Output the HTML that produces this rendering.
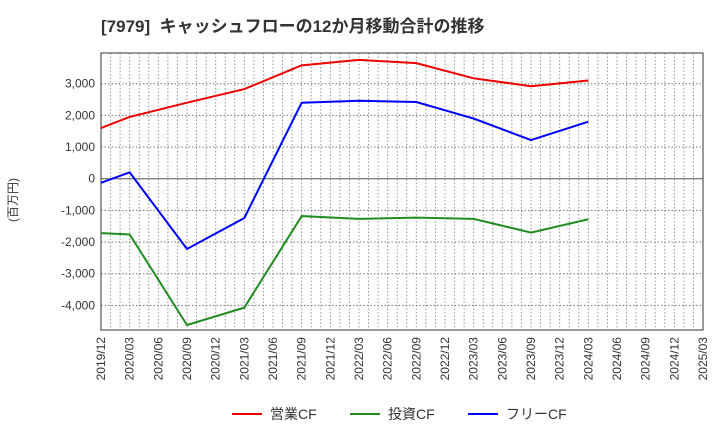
<!DOCTYPE html>
<html><head><meta charset="utf-8"><style>
body{margin:0;background:#fff;font-family:"Liberation Sans","Noto Sans CJK JP",sans-serif}
</style></head><body>
<svg id="c" width="720" height="440" xmlns="http://www.w3.org/2000/svg">
<text x="101" y="32" font-size="17" font-weight="bold" fill="#333" font-family="Liberation Sans,Noto Sans CJK JP,sans-serif">[7979]&#160;&#160;キャッシュフローの12か月移動合計の推移</text>
<text transform="translate(17,200) rotate(-90)" font-size="12" fill="#333" text-anchor="middle" font-family="Liberation Sans,Noto Sans CJK JP,sans-serif">(百万円)</text>
<g id="grid"></g><g id="axes"></g><g id="series"></g>
<g font-size="14" fill="#333" font-family="Liberation Sans,Noto Sans CJK JP,sans-serif">
<line x1="232" y1="414" x2="262" y2="414" stroke="#e00" stroke-width="2"/><text x="270" y="419">営業CF</text>
<line x1="350" y1="414" x2="380" y2="414" stroke="#228b22" stroke-width="2"/><text x="388" y="419">投資CF</text>
<line x1="468" y1="414" x2="498" y2="414" stroke="#00f" stroke-width="2"/><text x="506" y="419">フリーCF</text>
</g>
</svg>
<script>
const xLabels=["2019/12","2020/03","2020/06","2020/09","2020/12","2021/03","2021/06","2021/09","2021/12","2022/03","2022/06","2022/09","2022/12","2023/03","2023/06","2023/09","2023/12","2024/03","2024/06","2024/09","2024/12","2025/03"];
const yTicks=[-4000,-3000,-2000,-1000,0,1000,2000,3000];
const dataIdx=[0,1,3,5,7,9,11,13,15,17];
const operating=[1600,1950,2400,2830,3580,3750,3650,3170,2920,3100];
const investing=[-1720,-1760,-4620,-4070,-1180,-1270,-1230,-1270,-1700,-1280];
const free=[-130,200,-2220,-1240,2400,2460,2420,1900,1220,1800];
const L=101,R=703,T=53,B=330;
const x=q=>L+q*(R-L)/21;
const y=v=>178.7-v*31.67/1000;
const ns="http://www.w3.org/2000/svg";
function mk(t,a,p){const e=document.createElementNS(ns,t);for(const k in a)e.setAttribute(k,a[k]);p.appendChild(e);return e;}
const g=document.getElementById('grid'),ax=document.getElementById('axes'),s=document.getElementById('series');
for(let m=1;m<63;m++){const xx=L+m*(R-L)/63;const l=mk('line',{x1:xx,x2:xx,y1:T,y2:B,stroke:'#999','stroke-dasharray':'1.5,2','stroke-width':1},g);

}
yTicks.forEach(v=>{const l=mk('line',{x1:L,x2:R,y1:y(v),y2:y(v),stroke:v===0?'#555':'#777','stroke-dasharray':v===0?'':'1.5,2','stroke-width':1},g);


const t=mk('text',{x:L-6,y:y(v)+4,'text-anchor':'end','font-size':12,fill:'#333'},ax);t.textContent=v.toLocaleString('en-US');

});
const fr=mk('rect',{x:L,y:T,width:R-L,height:B-T,fill:'none',stroke:'#333'},ax);


xLabels.forEach((lb,i)=>{const t=mk('text',{transform:`translate(${x(i)+4},${B+7}) rotate(-90)`,'text-anchor':'end','font-size':12,fill:'#333'},ax);t.textContent=lb;

});
[[operating,'#e00','operating-cf-line'],[investing,'#228b22','investing-cf-line'],[free,'#00f','free-cf-line']].forEach(([d,c,n])=>{
const p=mk('polyline',{points:d.map((v,i)=>x(dataIdx[i])+','+y(v)).join(' '),fill:'none',stroke:c,'stroke-width':2},s);

});
</script>
</body></html>
